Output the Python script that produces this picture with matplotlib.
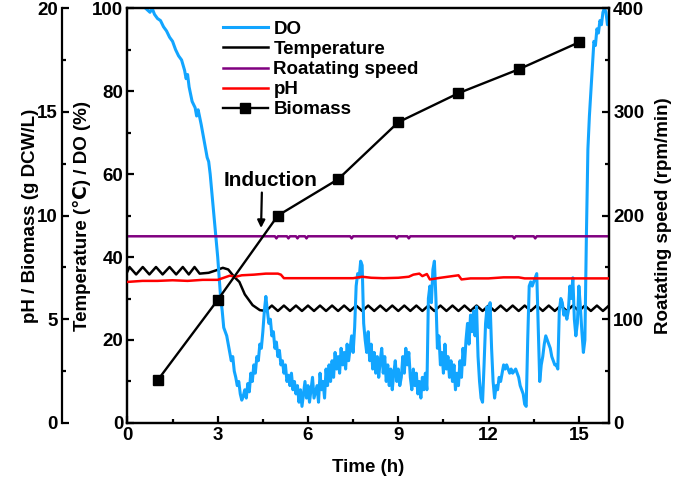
import matplotlib
matplotlib.use("Agg")
import matplotlib.pyplot as plt
from matplotlib.ticker import MultipleLocator

plt.rcParams['font.family'] = ['Liberation Sans', 'DejaVu Sans']
plt.rcParams['font.weight'] = 'bold'

# ---------------- data ----------------
do_t = [0.6, 0.75, 0.82, 0.9, 1.0, 1.1, 1.2, 1.3, 1.4, 1.5, 1.6, 1.7, 1.8, 1.9, 1.95, 2.0, 2.05, 2.15, 2.25, 2.3,
        2.35, 2.45, 2.55, 2.6, 2.65, 2.7, 2.75, 2.8, 2.85, 2.9, 2.95, 3.0, 3.05, 3.1, 3.15, 3.2, 3.3, 3.35, 3.4, 3.45,
        3.5, 3.55, 3.6, 3.65, 3.7, 3.75, 3.8, 3.85, 3.9, 3.95, 4.0, 4.05, 4.1, 4.15, 4.2, 4.25, 4.3, 4.35, 4.4, 4.45,
        4.5, 4.55, 4.6, 4.65, 4.7, 4.75, 4.8, 4.85, 4.9, 4.95, 5.0, 5.05, 5.1, 5.15, 5.2, 5.25, 5.3, 5.35, 5.4, 5.45,
        5.5, 5.55, 5.6, 5.65, 5.7, 5.75, 5.8, 5.85, 5.9, 5.95, 6.0, 6.05, 6.1, 6.15, 6.2, 6.3, 6.35, 6.4, 6.45, 6.5,
        6.55, 6.6, 6.65, 6.7, 6.75, 6.8, 6.85, 6.9, 6.95, 7.0, 7.05, 7.1, 7.15, 7.2, 7.25, 7.3, 7.35, 7.4, 7.45, 7.5,
        7.55, 7.6, 7.65, 7.7, 7.75, 7.8, 7.85, 7.9, 7.95, 8.0, 8.05, 8.1, 8.15, 8.2, 8.25, 8.3, 8.35, 8.4, 8.45, 8.5,
        8.55, 8.6, 8.65, 8.7, 8.75, 8.8, 8.85, 8.9, 8.95, 9.0, 9.05, 9.1, 9.15, 9.2, 9.25, 9.3, 9.35, 9.4, 9.45, 9.5,
        9.55, 9.6, 9.65, 9.7, 9.75, 9.8, 9.85, 9.9, 9.95, 10.0, 10.05, 10.1, 10.15, 10.2, 10.25, 10.3, 10.35, 10.4, 10.45, 10.5,
        10.55, 10.6, 10.65, 10.7, 10.75, 10.8, 10.85, 10.9, 10.95, 11.0, 11.05, 11.1, 11.15, 11.2, 11.25, 11.3, 11.35, 11.4, 11.45, 11.5,
        11.55, 11.6, 11.65, 11.7, 11.75, 11.8, 11.85, 11.9, 11.95, 12.0, 12.05, 12.1, 12.15, 12.2, 12.25, 12.3, 12.35, 12.4, 12.45, 12.5,
        12.55, 12.6, 12.7, 12.75, 12.8, 12.9, 13.0, 13.05, 13.1, 13.15, 13.2, 13.25, 13.3, 13.35, 13.4, 13.45, 13.5, 13.55, 13.6, 13.65,
        13.7, 13.75, 13.8, 13.85, 13.9, 13.95, 14.0, 14.05, 14.1, 14.15, 14.2, 14.25, 14.3, 14.35, 14.4, 14.45, 14.5, 14.55, 14.6, 14.65,
        14.7, 14.75, 14.8, 14.85, 14.9, 14.95, 15.0, 15.05, 15.1, 15.15, 15.2, 15.25, 15.3, 15.35, 15.4, 15.45, 15.5, 15.55, 15.6, 15.65,
        15.7, 15.75, 15.8, 15.85, 15.9, 15.95, 16.0]
do_v = [100, 99, 100, 98.5, 97.5, 97, 95.5, 94.5, 93, 92, 90, 88.5, 87.5, 85, 83, 84, 81, 77.5, 76, 74,
        75.5, 72, 68, 66, 64, 63, 60, 56, 52, 48, 44, 40, 35, 30, 27, 23, 21, 19, 17, 15,
        16, 12.5, 11, 9, 10, 7, 5.5, 6.5, 8, 6, 9.5, 7.5, 12, 10, 14, 12, 16, 15, 19, 18,
        22, 27, 30.5, 27, 24, 25, 21, 22, 18, 19.5, 16, 17.5, 14, 15, 12, 14, 10, 11.5, 9, 12,
        8, 10, 7, 9, 5, 8, 4, 7, 10, 6, 9, 5, 8, 11, 6, 9, 5, 12, 8, 10,
        6, 13, 9, 14, 10, 15, 11, 17, 13, 16, 12, 18, 14, 17, 13, 19, 15, 18, 21, 17,
        23, 33, 36, 35, 39, 38, 24, 20, 17, 22, 15, 19, 13, 17, 12, 16, 11, 15, 18, 12,
        16, 10, 14, 9, 13, 8, 12, 15, 10, 13, 9, 11, 16, 12, 18, 14, 17, 11, 8, 13,
        9, 12, 7, 10, 6, 11, 8, 12, 8, 30, 33, 29, 37, 39, 30, 18, 21, 14, 17, 12,
        19, 13, 16, 11, 15, 10, 14, 8, 12, 9, 15, 11, 18, 14, 20, 24, 19, 26, 22, 27,
        21, 28, 16, 10, 6, 5, 14, 24, 28, 23, 29, 18, 10, 6, 9, 8, 11, 10, 12, 14,
        13, 14, 12, 13, 12, 13, 11, 9, 8, 7, 4.5, 4, 20, 33, 34, 33, 34, 35, 36, 23,
        10, 14, 16, 19, 21, 20, 19, 18, 16, 15, 14, 14, 13, 27, 30, 29, 26, 27, 25, 27,
        33, 30, 35, 25, 21, 24, 33, 28, 22, 17, 20, 45, 66, 74, 80, 86, 92, 91, 95, 94,
        97, 96, 99, 100, 99, 96, 97]

temp_t = [0.0, 0.07, 0.29, 0.51, 0.73, 0.95, 1.17, 1.4, 1.62, 1.84, 2.04, 2.23, 2.4, 2.7, 2.95, 3.17, 3.35, 3.55,
          3.72, 3.9, 4.16, 4.4, 4.6, 4.8, 5.0, 5.2, 5.4, 5.6, 5.8, 6.0, 6.2, 6.4, 6.6, 6.8, 7.0, 7.2, 7.4, 7.6,
          7.8, 8.0, 8.2, 8.4, 8.6, 8.8, 9.0, 9.2, 9.4, 9.6, 9.8, 10.0, 10.2, 10.4, 10.6, 10.8, 11.0, 11.2, 11.4,
          11.6, 11.8, 12.0, 12.2, 12.4, 12.6, 12.8, 13.0, 13.2, 13.4, 13.6, 13.8, 14.0, 14.2, 14.4, 14.6, 14.8,
          15.0, 15.2, 15.4, 15.6, 15.8, 16.0]
temp_v = [36.5, 37.6, 35.8, 37.6, 35.8, 37.6, 35.8, 37.6, 35.8, 37.6, 35.8, 37.6, 36.0, 36.2, 36.8, 37.4, 37.0, 35.2,
          34.0, 31.0, 28.4, 27.2, 27.0, 28.3, 27.0, 28.3, 27.0, 28.3, 27.0, 28.3, 27.0, 28.3, 27.0, 28.3, 27.0, 28.3, 27.0, 28.3,
          27.0, 28.3, 27.0, 28.3, 27.0, 28.3, 27.0, 28.3, 27.0, 28.3, 27.0, 28.3, 27.0, 28.3, 27.0, 28.3, 27.0, 28.3, 27.0,
          28.3, 27.0, 28.3, 27.0, 28.3, 27.0, 28.3, 27.0, 28.3, 27.0, 28.3, 27.0, 28.3, 27.0, 28.3, 27.0, 28.3,
          27.0, 28.3, 27.0, 28.3, 27.0, 28.3]

rs_t = [0.0, 4.9, 4.95, 5.0, 5.3, 5.35, 5.4, 5.6, 5.65, 5.7, 5.9, 5.95, 6.0, 7.4, 7.45, 7.5, 8.9, 8.95, 9.0,
        9.3, 9.35, 9.4, 12.8, 12.85, 12.9, 13.5, 13.55, 13.6, 16.0]
rs_v = [180, 180, 178, 180, 180, 178, 180, 180, 178, 180, 180, 178, 180, 180, 178, 180, 180, 178, 180,
        180, 178, 180, 180, 178, 180, 180, 178, 180, 180]

ph_t = [0.0, 0.5, 1.0, 1.5, 2.0, 2.5, 3.0, 3.2, 3.4, 3.6, 3.8, 4.2, 4.6, 5.0, 5.1, 5.2, 6.0, 7.0, 7.5, 7.8,
        8.1, 8.5, 9.0, 9.35, 9.5, 9.7, 9.8, 9.95, 10.05, 10.4, 10.9, 11.0, 11.1, 11.4, 12.0, 12.5, 13.0, 13.2,
        13.5, 14.0, 14.5, 15.0, 15.5, 16.0]
ph_v = [6.8, 6.85, 6.85, 6.88, 6.85, 6.9, 6.9, 7.0, 7.1, 7.05, 7.12, 7.15, 7.2, 7.2, 7.15, 6.98, 6.98, 6.98, 6.98, 7.05,
        7.0, 6.98, 7.0, 7.05, 7.15, 7.2, 7.08, 7.18, 6.92, 7.0, 7.1, 7.12, 6.92, 6.97, 6.97, 7.02, 7.02, 6.97,
        6.97, 6.97, 6.97, 6.97, 6.97, 6.97]

bio_t = [1, 3, 5, 7, 9, 11, 13, 15]
bio_v = [2.05, 5.93, 10.0, 11.75, 14.5, 15.9, 17.05, 18.35]

x_ticks = [0, 3, 6, 9, 12, 15]

# ---------------- figure ----------------
FS = 13.5
fig = plt.figure(figsize=(6.85, 4.79), dpi=100)
ax = fig.add_axes([0.186, 0.117, 0.703, 0.866])
ax2 = ax.twinx()   # rotating speed (right)
ax3 = ax.twinx()   # pH / biomass (outer left)

DO_C = '#12a5ff'
l_do, = ax.plot(do_t, do_v, color=DO_C, lw=2.2, zorder=3)
l_temp, = ax.plot(temp_t, temp_v, color='black', lw=1.8, zorder=2)
l_rs, = ax2.plot(rs_t, rs_v, color='#800080', lw=1.8)
l_ph, = ax3.plot(ph_t, ph_v, color='red', lw=1.8)
l_bio, = ax3.plot(bio_t, bio_v, color='black', lw=1.7, marker='s', markersize=7.5)

ax.set_xlim(0, 16)
ax.set_ylim(0, 100)
ax2.set_ylim(0, 400)
ax3.set_ylim(0, 20)

ax.set_xticks(x_ticks)
ax.xaxis.set_minor_locator(MultipleLocator(1.5))
ax.yaxis.set_major_locator(MultipleLocator(20))
ax.yaxis.set_minor_locator(MultipleLocator(10))
ax2.yaxis.set_major_locator(MultipleLocator(100))
ax2.yaxis.set_minor_locator(MultipleLocator(50))
ax3.yaxis.set_major_locator(MultipleLocator(5))
ax3.yaxis.set_minor_locator(MultipleLocator(2.5))

ax3.yaxis.set_label_position('left')
ax3.yaxis.set_ticks_position('left')
ax3.spines['left'].set_position(('outward', 47))
for s in ['right', 'top', 'bottom']:
    ax3.spines[s].set_visible(False)

for a in (ax, ax2, ax3):
    for s in a.spines.values():
        s.set_linewidth(1.6)
    a.tick_params(which='major', direction='in', length=5, width=1.6, labelsize=FS, pad=3)
    a.tick_params(which='minor', direction='in', length=3, width=1.6)
ax.tick_params(axis='x', top=False, which='both')

ax.set_xlabel('Time (h)', fontsize=FS, fontweight='bold', labelpad=11)
ax.set_ylabel('Temperature (\u2103) / DO (%)', fontsize=FS, fontweight='bold', labelpad=1)
ax2.set_ylabel('Roatating speed (rpm/min)', fontsize=FS, fontweight='bold', labelpad=8)
ax3.set_ylabel('pH / Biomass (g DCW/L)', fontsize=FS, fontweight='bold', labelpad=-1)

ax.annotate('Induction', xy=(4.44, 47), xytext=(4.75, 58.5), textcoords='data',
            ha='center', va='center', fontsize=15, fontweight='bold',
            arrowprops=dict(arrowstyle='-|>', color='black', lw=1.6, mutation_scale=11,
                            shrinkA=0, shrinkB=0, relpos=(0.41, 0.0)))

leg = ax3.legend([l_do, l_temp, l_rs, l_ph, l_bio],
                 ['DO', 'Temperature', 'Roatating speed', 'pH', 'Biomass'],
                 loc='upper left', bbox_to_anchor=(0.306, 0.984), bbox_transform=fig.transFigure,
                 frameon=False, handlelength=2.4, handletextpad=0.3,
                 labelspacing=0.16, borderpad=0.2, prop={'weight': 'bold', 'size': FS})

fig.savefig('out.png', dpi=100)
